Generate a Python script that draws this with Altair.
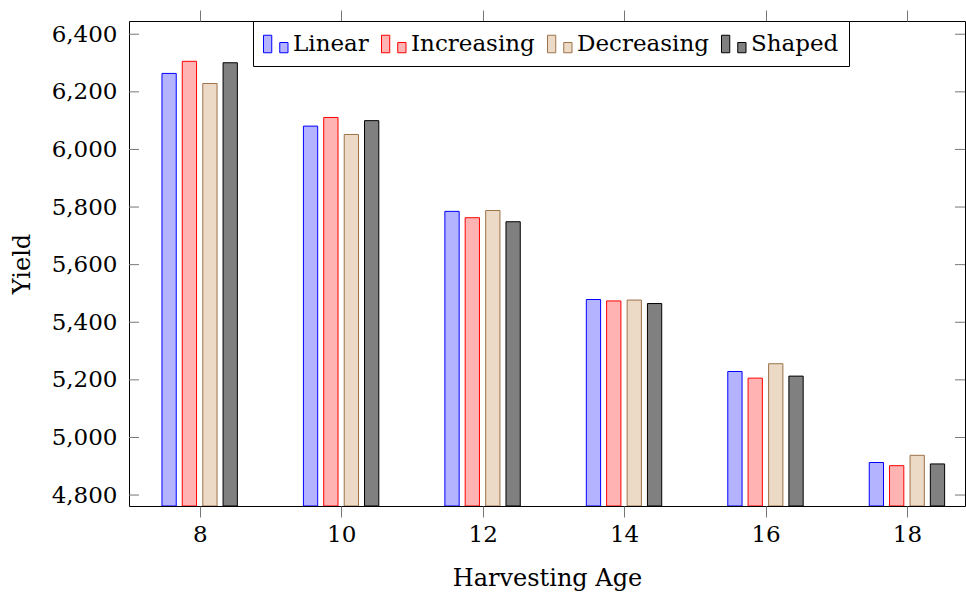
import altair as alt
import pandas as pd

# Harvesting age (years) and simulated yield for each growth model
ages = [8, 10, 12, 14, 16, 18]
linear = [6264, 6081, 5785, 5479, 5229, 4913]
increasing = [6306, 6111, 5763, 5474, 5206, 4902]
decreasing = [6229, 6052, 5788, 5477, 5256, 4938]
shaped = [6301, 6100, 5749, 5465, 5213, 4908]

series_names = ["Linear", "Increasing", "Decreasing", "Shaped"]
series_values = [linear, increasing, decreasing, shaped]
y_ticks = [4800, 5000, 5200, 5400, 5600, 5800, 6000, 6200, 6400]

# styling: bar shift within a group (x units), fills and outlines
bar_shift = {"Linear": -0.433, "Increasing": -0.146, "Decreasing": 0.144, "Shaped": 0.431}
half_width = 0.101
fills = ["#b3b3ff", "#ffb3b3", "#ecd9c6", "#808080"]
strokes = ["#0000ff", "#ff0000", "#9c7349", "#000000"]

rows = []
for name, vals in zip(series_names, series_values):
    for a, v in zip(ages, vals):
        rows.append({"age": a, "model": name, "yield": v, "shift": bar_shift[name]})
df = pd.DataFrame(rows)
tick_df = pd.DataFrame({"v": y_ticks})
age_df = pd.DataFrame({"age": ages})

W, H = 836, 485
FONT = "DejaVu Serif"

xs = alt.Scale(domain=[7.0, 18.82], nice=False, zero=False)
ys = alt.Scale(domain=[4762, 6446], nice=False, zero=False)

color_fill = alt.Scale(domain=series_names, range=fills)
color_stroke = alt.Scale(domain=series_names, range=strokes)

legend = alt.Legend(
    title=None,
    orient="none",
    legendX=124,
    legendY=0,
    direction="horizontal",
    symbolType="M-1,-0.7H-0.34V0.7H-1Z M0.3,-0.12H0.96V0.7H0.3Z",
    symbolSize=625,
    symbolStrokeWidth=1,
    symbolOpacity=1,
    labelFont=FONT,
    labelFontSize=23,
    labelColor="black",
    labelOffset=4,
    columnPadding=10,
    padding=10,
    strokeColor="black",
    fillColor="white",
    cornerRadius=0,
)

bars = (
    alt.Chart(df)
    .transform_calculate(
        x0=f"datum.age + datum.shift - {half_width}",
        x1=f"datum.age + datum.shift + {half_width}",
    )
    .mark_bar(strokeWidth=1, clip=True, opacity=1)
    .encode(
        x=alt.X(
            "x0:Q",
            scale=xs,
            axis=alt.Axis(
                orient="bottom",
                values=ages,
                format="d",
                title="Harvesting Age",
                domain=False,
                ticks=True,
                tickSize=11,
                tickColor="#777777",
                labelPadding=6,
                titlePadding=20,
                grid=False,
            ),
        ),
        x2="x1:Q",
        y=alt.Y(
            "yield:Q",
            scale=ys,
            axis=alt.Axis(
                orient="left",
                values=y_ticks,
                format=",d",
                title="Yield",
                domain=False,
                ticks=False,
                labelPadding=12,
                titlePadding=17,
                grid=False,
            ),
        ),
        y2=alt.value(H),
        fill=alt.Fill("model:N", scale=color_fill, legend=legend),
        stroke=alt.Stroke("model:N", scale=color_stroke, legend=legend),
    )
)

# ticks on the top edge, pointing outward
top_axis = (
    alt.Chart(age_df)
    .mark_point(opacity=0)
    .encode(
        x=alt.X(
            "age:Q",
            scale=xs,
            axis=alt.Axis(
                orient="top",
                values=ages,
                labels=False,
                title=None,
                domain=False,
                ticks=True,
                tickSize=11,
                tickColor="#777777",
                grid=False,
            ),
        ),
        y=alt.value(0),
    )
)

# inward ticks on the left and right edges
left_ticks = (
    alt.Chart(tick_df)
    .mark_rule(color="#777777", strokeWidth=1)
    .encode(y=alt.Y("v:Q", scale=ys, axis=None), x=alt.value(0), x2=alt.value(10))
)
right_ticks = (
    alt.Chart(tick_df)
    .mark_rule(color="#777777", strokeWidth=1)
    .encode(y=alt.Y("v:Q", scale=ys, axis=None), x=alt.value(W - 10), x2=alt.value(W))
)

chart = (
    alt.layer(bars, top_axis, left_ticks, right_ticks)
    .resolve_axis(x="independent", y="independent")
    .properties(
        width=W,
        height=H,
        background="white",
        autosize=alt.AutoSizeParams(type="none"),
        padding={"left": 129, "top": 21, "right": 1, "bottom": 86},
    )
    .configure_view(stroke="black", strokeWidth=1)
    .configure_axis(
        labelFont=FONT,
        labelFontSize=23,
        labelColor="black",
        titleFont=FONT,
        titleFontSize=24,
        titleFontWeight="normal",
        titleColor="black",
    )
)

chart.save("out.html", embed_options={"renderer": "svg", "actions": False})
